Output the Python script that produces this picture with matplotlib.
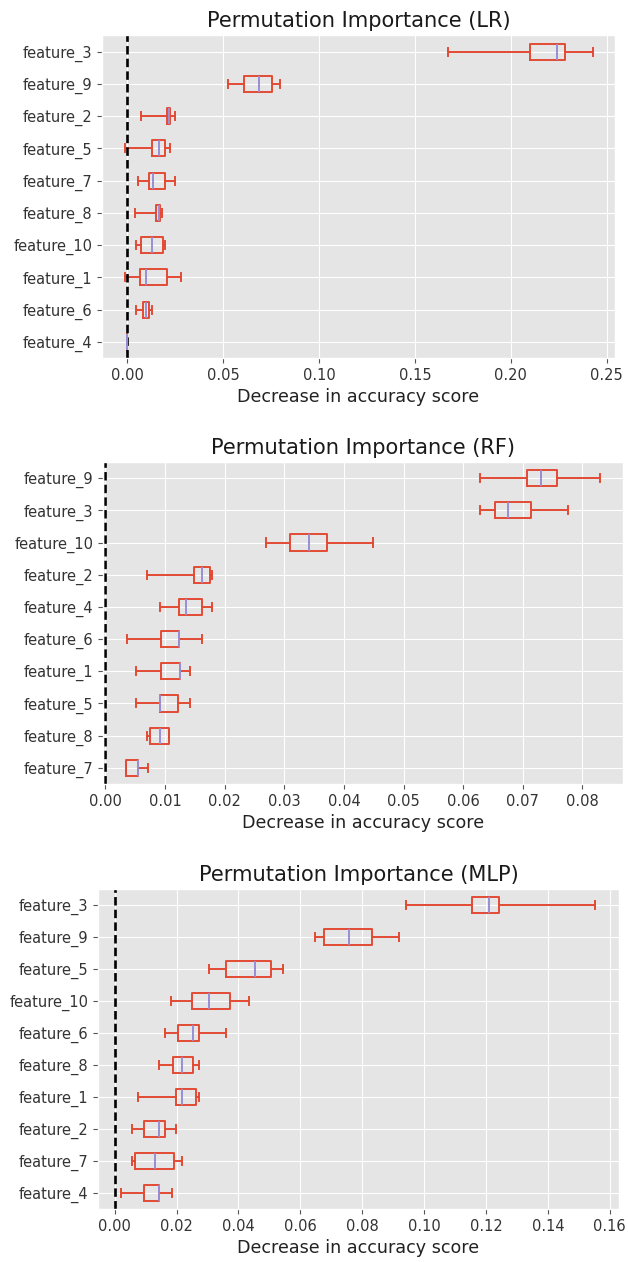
import matplotlib
matplotlib.use("Agg")
import matplotlib.pyplot as plt

plt.style.use("ggplot")
plt.rcParams["font.family"] = ["DejaVu Sans"]
plt.rcParams["font.size"] = 10.5
plt.rcParams["axes.labelcolor"] = "#222222"
plt.rcParams["xtick.labelcolor"] = "#333333"
plt.rcParams["ytick.labelcolor"] = "#333333"

# Box statistics per model, listed from the top row to the bottom row.
lr_labels = ["feature_3", "feature_9", "feature_2", "feature_5", "feature_7",
             "feature_8", "feature_10", "feature_1", "feature_6", "feature_4"]
lr_low = [0.167, 0.0524, 0.0073, -0.0010, 0.0058, 0.0042, 0.0046, -0.0010, 0.0046, 0.0]
lr_q1 = [0.210, 0.0608, 0.0207, 0.0129, 0.0113, 0.0150, 0.0073, 0.0065, 0.0081, 0.0]
lr_med = [0.224, 0.0687, 0.0217, 0.0167, 0.0134, 0.0163, 0.0129, 0.0096, 0.0096, 0.0]
lr_q3 = [0.228, 0.0752, 0.0223, 0.0196, 0.0196, 0.0171, 0.0184, 0.0207, 0.0115, 0.0]
lr_high = [0.243, 0.0796, 0.0251, 0.0223, 0.0251, 0.0182, 0.0196, 0.0278, 0.0129, 0.0]

rf_labels = ["feature_9", "feature_3", "feature_10", "feature_2", "feature_4",
             "feature_6", "feature_1", "feature_5", "feature_8", "feature_7"]
rf_low = [0.0628, 0.0628, 0.0270, 0.0070, 0.0091, 0.0036, 0.0052, 0.0052, 0.0070, 0.0035]
rf_q1 = [0.0707, 0.0653, 0.0309, 0.0148, 0.0124, 0.0093, 0.0093, 0.0091, 0.0075, 0.0035]
rf_med = [0.0731, 0.0676, 0.0342, 0.0162, 0.0135, 0.0124, 0.0125, 0.0091, 0.0091, 0.0054]
rf_q3 = [0.0758, 0.0713, 0.0371, 0.0175, 0.0162, 0.0124, 0.0125, 0.0121, 0.0107, 0.0054]
rf_high = [0.0830, 0.0775, 0.0449, 0.0178, 0.0179, 0.0162, 0.0142, 0.0142, 0.0107, 0.0071]

mlp_labels = ["feature_3", "feature_9", "feature_5", "feature_10", "feature_6",
              "feature_8", "feature_1", "feature_2", "feature_7", "feature_4"]
mlp_low = [0.0941, 0.0649, 0.0306, 0.0183, 0.0163, 0.0144, 0.0076, 0.0057, 0.0057, 0.0021]
mlp_q1 = [0.1154, 0.0678, 0.0360, 0.0251, 0.0206, 0.0188, 0.0198, 0.0096, 0.0066, 0.0096]
mlp_med = [0.1209, 0.0758, 0.0452, 0.0306, 0.0254, 0.0218, 0.0218, 0.0144, 0.0130, 0.0144]
mlp_q3 = [0.1241, 0.0832, 0.0504, 0.0374, 0.0272, 0.0254, 0.0263, 0.0162, 0.0192, 0.0144]
mlp_high = [0.1552, 0.0920, 0.0544, 0.0433, 0.0360, 0.0272, 0.0272, 0.0198, 0.0219, 0.0184]

panels = [
    ("Permutation Importance (LR)", lr_labels, lr_low, lr_q1, lr_med, lr_q3, lr_high,
     (-0.0132, 0.2542), [0.1624, 0.7163, 0.8166, 0.2556]),
    ("Permutation Importance (RF)", rf_labels, rf_low, rf_q1, rf_med, rf_q3, rf_high,
     (-0.0004, 0.0868), [0.1640, 0.3788, 0.8280, 0.2551]),
    ("Permutation Importance (MLP)", mlp_labels, mlp_low, mlp_q1, mlp_med, mlp_q3, mlp_high,
     (-0.0054, 0.1630), [0.1560, 0.0420, 0.8297, 0.2536]),
]

box_color = "#E24A33"
median_color = "#988ED5"
lw = 1.4

fig = plt.figure(figsize=(6.28, 12.62), dpi=100)

for title, labels, low, q1, med, q3, high, xlim, rect in panels:
    ax = fig.add_axes(rect)
    stats = []
    # bottom row first so the first listed feature ends up on top
    for i in reversed(range(len(labels))):
        stats.append({
            "label": labels[i],
            "whislo": low[i], "q1": q1[i], "med": med[i],
            "q3": q3[i], "whishi": high[i], "fliers": [],
        })
    ax.bxp(stats, orientation="horizontal", showfliers=False,
           boxprops=dict(color=box_color, linewidth=lw),
           whiskerprops=dict(color=box_color, linewidth=lw),
           capprops=dict(color=box_color, linewidth=lw),
           medianprops=dict(color=median_color, linewidth=lw))
    ax.axvline(x=0, color="k", linestyle="--", linewidth=1.9, dashes=(3.2, 1.6))
    ax.set_xlim(*xlim)
    ax.set_ylim(0.5, len(labels) + 0.5)
    ax.set_title(title, color="#1a1a1a")
    ax.set_xlabel("Decrease in accuracy score")

fig.savefig("out.png", dpi=100)
